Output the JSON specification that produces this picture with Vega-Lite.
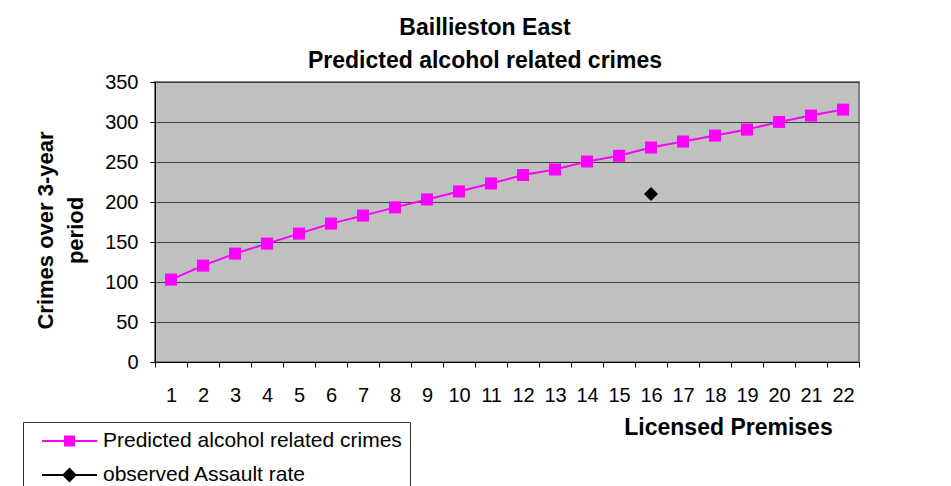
{
  "$schema": "https://vega.github.io/schema/vega-lite/v6.json",
  "width": 704,
  "height": 280,
  "autosize": {"type": "none"},
  "padding": {"left": 155, "top": 82, "right": 92, "bottom": 124},
  "background": "white",
  "title": {
    "text": ["Baillieston East", "Predicted alcohol related crimes"],
    "font": "Liberation Sans",
    "fontSize": 23,
    "fontWeight": "bold",
    "lineHeight": 33,
    "anchor": "middle",
    "offset": -1,
    "dx": -22,
    "color": "black"
  },
  "data": {
    "values": [
      {"x": 1, "series": "Predicted alcohol related crimes", "value": 103},
      {"x": 2, "series": "Predicted alcohol related crimes", "value": 120.5},
      {"x": 3, "series": "Predicted alcohol related crimes", "value": 135.5},
      {"x": 4, "series": "Predicted alcohol related crimes", "value": 148},
      {"x": 5, "series": "Predicted alcohol related crimes", "value": 160.5},
      {"x": 6, "series": "Predicted alcohol related crimes", "value": 173},
      {"x": 7, "series": "Predicted alcohol related crimes", "value": 183},
      {"x": 8, "series": "Predicted alcohol related crimes", "value": 193.3},
      {"x": 9, "series": "Predicted alcohol related crimes", "value": 203.2},
      {"x": 10, "series": "Predicted alcohol related crimes", "value": 213.2},
      {"x": 11, "series": "Predicted alcohol related crimes", "value": 223.2},
      {"x": 12, "series": "Predicted alcohol related crimes", "value": 233.7},
      {"x": 13, "series": "Predicted alcohol related crimes", "value": 240.6},
      {"x": 14, "series": "Predicted alcohol related crimes", "value": 250.6},
      {"x": 15, "series": "Predicted alcohol related crimes", "value": 257.7},
      {"x": 16, "series": "Predicted alcohol related crimes", "value": 268.1},
      {"x": 17, "series": "Predicted alcohol related crimes", "value": 275.6},
      {"x": 18, "series": "Predicted alcohol related crimes", "value": 283},
      {"x": 19, "series": "Predicted alcohol related crimes", "value": 290.5},
      {"x": 20, "series": "Predicted alcohol related crimes", "value": 300.1},
      {"x": 21, "series": "Predicted alcohol related crimes", "value": 308},
      {"x": 22, "series": "Predicted alcohol related crimes", "value": 315.5},
      {"x": 16, "series": "observed Assault rate", "value": 210}
    ]
  },
  "encoding": {
    "x": {
      "field": "x",
      "type": "ordinal",
      "scale": {"type": "band", "paddingInner": 0, "paddingOuter": 0},
      "axis": {
        "title": "Licensed Premises",
        "labelAngle": 0,
        "tickBand": "extent",
        "tickSize": 5,
        "tickColor": "black",
        "domainColor": "black",
        "domainWidth": 1,
        "labelFont": "Liberation Sans",
        "labelFontSize": 20,
        "labelColor": "black",
        "labelPadding": 18,
        "grid": false,
        "titleFont": "Liberation Sans",
        "titleFontSize": 23,
        "titleFontWeight": "bold",
        "titleColor": "black",
        "titleX": 573,
        "titleY": 65,
        "titleAlign": "center",
        "titleBaseline": "middle"
      }
    },
    "y": {
      "field": "value",
      "type": "quantitative",
      "scale": {"domain": [0, 350], "nice": false},
      "axis": {
        "title": ["Crimes over 3-year", "period"],
        "values": [0, 50, 100, 150, 200, 250, 300, 350],
        "tickSize": 5,
        "tickColor": "black",
        "domainColor": "black",
        "domainWidth": 1,
        "grid": true,
        "gridColor": "#404040",
        "gridWidth": 1,
        "labelFont": "Liberation Sans",
        "labelFontSize": 20,
        "labelColor": "black",
        "labelPadding": 12,
        "titleFont": "Liberation Sans",
        "titleFontSize": 22,
        "titleFontWeight": "bold",
        "titleColor": "black",
        "titleLineHeight": 30,
        "titleAngle": -90,
        "titleX": -98,
        "titleY": 148,
        "titleAlign": "center",
        "titleBaseline": "bottom"
      }
    }
  },
  "layer": [
    {
      "mark": {"type": "line", "strokeWidth": 2},
      "encoding": {
        "color": {
          "field": "series",
          "type": "nominal",
          "scale": {
            "domain": ["Predicted alcohol related crimes", "observed Assault rate"],
            "range": ["#FF00FF", "#000000"]
          },
          "legend": {
            "orient": "none",
            "legendX": -132,
            "legendY": 340,
            "title": null,
            "direction": "vertical",
            "fillColor": "white",
            "strokeColor": "#333333",
            "padding": 8,
            "rowPadding": 13,
            "labelOffset": 50,
            "labelFont": "Liberation Sans",
            "labelFontSize": 21,
            "labelColor": "black",
            "labelLimit": 600,
            "symbolSize": 400,
            "symbolStrokeWidth": 2,
            "symbolType": {"expr": "datum.value === 'observed Assault rate' ? 'M0,0H5.5M2.75,-0.6L3.35,0L2.75,0.6L2.15,0Z' : 'M0,0H5.5M2.3,-0.45H3.2V0.45H2.3Z'"},
            "symbolFillColor": {"expr": "datum.value === 'observed Assault rate' ? '#000000' : '#FF00FF'"}
          }
        }
      }
    },
    {
      "mark": {"type": "point", "filled": true, "opacity": 1, "strokeWidth": 0},
      "encoding": {
        "color": {
          "condition": {"test": "datum.series === 'observed Assault rate'", "value": "#000000"},
          "value": "#FF00FF"
        },
        "shape": {
          "condition": {"test": "datum.series === 'observed Assault rate'", "value": "diamond"},
          "value": "square"
        },
        "size": {
          "condition": {"test": "datum.series === 'observed Assault rate'", "value": 196},
          "value": 144
        }
      }
    }
  ],
  "config": {
    "view": {"fill": "#C0C0C0", "stroke": "#808080", "strokeWidth": 2}
  }
}
